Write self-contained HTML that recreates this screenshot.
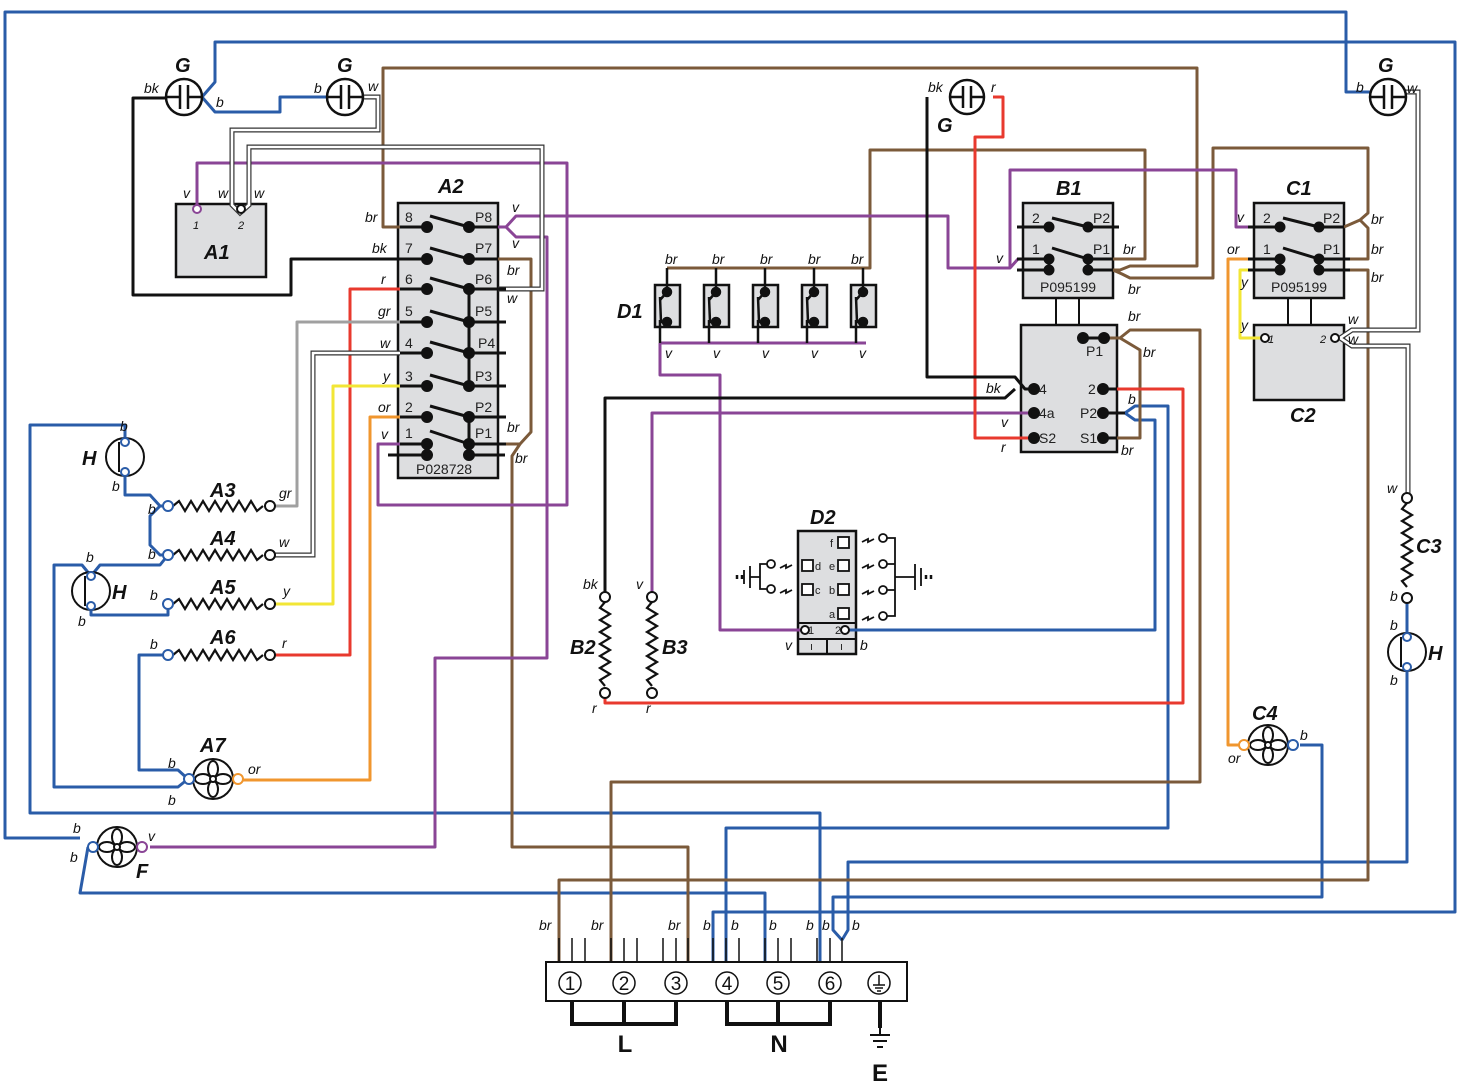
<!DOCTYPE html>
<html><head><meta charset="utf-8"><style>
html,body{margin:0;padding:0;background:#fff}
svg{display:block}
.t{font-family:"Liberation Sans",sans-serif;font-style:italic;font-size:14px;fill:#111}
.n{font-family:"Liberation Sans",sans-serif;font-style:italic;font-weight:bold;font-size:20px;fill:#111}
.p{font-family:"Liberation Sans",sans-serif;font-size:14px;fill:#222}
.w{fill:none;stroke-width:3;stroke-linejoin:round}
.br{stroke:#7b5a3a}.v{stroke:#8a4596}.b{stroke:#2a5ca8}.r{stroke:#e8392e}.o{stroke:#f0962e}.y{stroke:#f2e635}.g{stroke:#a0a0a0}.k{stroke:#111}
.wo{fill:none;stroke:#333;stroke-width:5}.wi{fill:none;stroke:#fff;stroke-width:2.6}
.box{fill:#dddee0;stroke:#111;stroke-width:2.5}
.th{stroke:#111;stroke-width:2;fill:none}
</style></head><body>
<svg width="1459" height="1087" viewBox="0 0 1459 1087" xmlns="http://www.w3.org/2000/svg">
<!-- boxes -->
<rect class="box" x="176" y="204" width="90" height="73"/>
<rect class="box" x="398" y="203" width="100" height="275"/>
<rect class="box" x="1023" y="203" width="90" height="95"/>
<rect class="box" x="1021" y="325" width="96" height="127"/>
<rect class="box" x="1254" y="203" width="90" height="95"/>
<rect class="box" x="1254" y="325" width="90" height="75"/>
<rect class="box" x="798" y="531" width="58" height="123"/>
<line class="th" x1="798" y1="623" x2="856" y2="623"/><line class="th" x1="798" y1="639" x2="856" y2="639"/><line class="th" x1="827" y1="639" x2="827" y2="654"/>
<line class="th" x1="1056" y1="298" x2="1056" y2="325"/><line class="th" x1="1079" y1="298" x2="1079" y2="325"/>
<line class="th" x1="1288" y1="298" x2="1288" y2="325"/><line class="th" x1="1311" y1="298" x2="1311" y2="325"/>

<!-- BLUE wires -->
<polyline class="w b" points="80,838 5,838 5,12 1346,12 1346,92 1370,92"/>
<polyline class="w b" points="202,97 215,82 215,42 1455,42 1455,912 713,912 713,962"/>
<polyline class="w b" points="202,97 215,112 280,112 280,97 327,97"/>
<polyline class="w b" points="125,440 125,425 30,425 30,813 820,813 820,962"/>
<polyline class="w b" points="125,472 125,495 150,495 160,506 168,506"/>
<polyline class="w b" points="168,506 160,506 150,516 150,545 160,555 168,555"/>
<polyline class="w b" points="168,555 160,565 100,565 91,576 82,565 54,565 54,787 178,787 188,779"/>
<polyline class="w b" points="91,606 91,615 168,615 168,604"/>
<polyline class="w b" points="168,655 139,655 139,770 178,770 188,779"/>
<polyline class="w b" points="88,847 80,893 765,893 765,962"/>
<polyline class="w b" points="845,630 1155,630 1155,420 1135,420 1125,413"/>
<polyline class="w b" points="1125,413 1135,406 1168,406 1168,828 726,828 726,962"/>
<polyline class="w b" points="1300,745 1322,745 1322,897 833,897 833,930 842,940"/>
<polyline class="w b" points="1407,667 1407,862 848,862 848,930 842,940"/>
<polyline class="w b" points="1407,598 1407,637"/>

<!-- BROWN -->
<polyline class="w br" points="400,227 383,227 383,68 1197,68 1197,266 1130,266 1120,270 1113,270"/>
<polyline class="w br" points="1113,270 1122,274 1130,278 1213,278 1213,148 1368,148 1368,213 1360,220 1344,227"/>
<polyline class="w br" points="1360,220 1368,228 1368,259 1344,259"/>
<polyline class="w br" points="1113,259 1145,259 1145,150 870,150 870,268 667,268"/>
<polyline class="w br" points="1344,270 1368,270 1368,880 559,880 559,962"/>
<polyline class="w br" points="498,259 531,259 531,432 520,444 506,444"/>
<polyline class="w br" points="520,444 512,456 512,847 688,847 688,962"/>
<polyline class="w br" points="1104,338 1120,338 1130,330 1200,330 1200,782 611,782 611,962"/>
<polyline class="w br" points="1120,338 1140,350 1140,438 1117,438"/>
<!-- PURPLE -->
<polyline class="w v" points="197,205 197,163 567,163 567,505 378,505 378,444 400,444"/>
<polyline class="w v" points="498,227 506,227 516,216 948,216 948,268 1010,268 1018,259 1023,259"/>
<polyline class="w v" points="506,227 516,237 547,237 547,658 435,658 435,847 150,847"/>
<polyline class="w v" points="1010,268 1010,252 1010,170 1236,170 1236,227 1254,227"/>
<polyline class="w v" points="660,343 866,343"/>
<polyline class="w v" points="660,343 660,375 720,375 720,630 805,630"/>
<polyline class="w v" points="1034,413 652,413 652,597"/>
<!-- RED -->
<polyline class="w r" points="993,97 1003,97 1003,137 975,137 975,438 1034,438"/>
<polyline class="w r" points="400,289 350,289 350,655 270,655"/>
<polyline class="w r" points="1103,389 1183,389 1183,703 652,703"/>
<polyline class="w r" points="605,693 605,703 652,703"/>
<!-- ORANGE -->
<polyline class="w o" points="400,417 370,417 370,780 238,780"/>
<polyline class="w o" points="1254,259 1228,259 1228,745 1245,745"/>
<!-- YELLOW -->
<polyline class="w y" points="400,386 333,386 333,604 270,604"/>
<polyline class="w y" points="1254,270 1240,270 1240,338 1265,338"/>
<!-- GRAY -->
<polyline class="w g" points="400,322 297,322 297,506 270,506"/>
<!-- BLACK -->
<polyline class="w k" points="166,98 133,98 133,295 291,295 291,259 427,259"/>
<polyline class="w k" points="927,97 927,377 1015,377 1025,389 1034,389"/>
<polyline class="w k" points="1015,389 1005,398 605,398 605,597"/>
<!-- WHITE -->
<g>
<polyline class="wo" points="363,97 378,97 378,130 232,130 232,205 240,213 249,205 249,147 542,147 542,289 498,289"/>
<polyline class="wi" points="363,97 378,97 378,130 232,130 232,205 240,213 249,205 249,147 542,147 542,289 498,289"/>
<polyline class="wo" points="400,353 313,353 313,555 270,555"/>
<polyline class="wi" points="400,353 313,353 313,555 270,555"/>
<polyline class="wo" points="1405,92 1418,92 1418,330 1352,330 1340,338 1352,346 1408,346 1408,497"/>
<polyline class="wi" points="1405,92 1418,92 1418,330 1352,330 1340,338 1352,346 1408,346 1408,497"/>
</g>

<!-- A2 internals -->
<g stroke="#111" stroke-width="3" fill="#111">
<line x1="400" y1="227" x2="427" y2="227"/><line x1="469" y1="227" x2="498" y2="227"/>
<line x1="469" y1="259" x2="498" y2="259"/><line x1="469" y1="289" x2="506" y2="289"/>
<line x1="469" y1="322" x2="506" y2="322"/><line x1="469" y1="353" x2="506" y2="353"/>
<line x1="469" y1="386" x2="506" y2="386"/><line x1="469" y1="417" x2="506" y2="417"/>
<line x1="469" y1="444" x2="506" y2="444"/><line x1="388" y1="455" x2="427" y2="455"/><line x1="469" y1="455" x2="505" y2="455"/>
<line x1="400" y1="259" x2="427" y2="259"/><line x1="400" y1="289" x2="427" y2="289"/><line x1="400" y1="322" x2="427" y2="322"/><line x1="400" y1="353" x2="427" y2="353"/><line x1="400" y1="386" x2="427" y2="386"/><line x1="400" y1="417" x2="427" y2="417"/><line x1="400" y1="444" x2="427" y2="444"/>
<line x1="469" y1="289" x2="469" y2="386"/><line x1="469" y1="417" x2="469" y2="444"/>
<line x1="430" y1="216" x2="469" y2="227"/><line x1="430" y1="248" x2="469" y2="259"/><line x1="430" y1="278" x2="469" y2="289"/><line x1="430" y1="311" x2="469" y2="322"/><line x1="430" y1="342" x2="469" y2="353"/><line x1="430" y1="375" x2="469" y2="386"/><line x1="430" y1="406" x2="469" y2="417"/><line x1="430" y1="431" x2="469" y2="444"/>
<circle cx="427" cy="227" r="4.5"/><circle cx="427" cy="259" r="4.5"/><circle cx="427" cy="289" r="4.5"/><circle cx="427" cy="322" r="4.5"/><circle cx="427" cy="353" r="4.5"/><circle cx="427" cy="386" r="4.5"/><circle cx="427" cy="417" r="4.5"/><circle cx="427" cy="444" r="4.5"/><circle cx="427" cy="455" r="4.5"/>
<circle cx="469" cy="227" r="4.5"/><circle cx="469" cy="259" r="4.5"/><circle cx="469" cy="289" r="4.5"/><circle cx="469" cy="322" r="4.5"/><circle cx="469" cy="353" r="4.5"/><circle cx="469" cy="386" r="4.5"/><circle cx="469" cy="417" r="4.5"/><circle cx="469" cy="444" r="4.5"/><circle cx="469" cy="455" r="4.5"/>
<!-- B1 -->
<line x1="1017" y1="227" x2="1049" y2="227"/><line x1="1088" y1="227" x2="1119" y2="227"/>
<line x1="1017" y1="259" x2="1049" y2="259"/><line x1="1088" y1="259" x2="1113" y2="259"/>
<line x1="1017" y1="270" x2="1049" y2="270"/><line x1="1088" y1="270" x2="1113" y2="270"/>
<line x1="1049" y1="259" x2="1049" y2="270"/><line x1="1088" y1="259" x2="1088" y2="270"/>
<line x1="1052" y1="218" x2="1088" y2="227"/><line x1="1052" y1="248" x2="1088" y2="259"/>
<circle cx="1049" cy="227" r="4"/><circle cx="1088" cy="227" r="4"/><circle cx="1049" cy="259" r="4"/><circle cx="1088" cy="259" r="4"/><circle cx="1049" cy="270" r="4"/><circle cx="1088" cy="270" r="4"/>
<!-- C1 -->
<line x1="1248" y1="227" x2="1280" y2="227"/><line x1="1319" y1="227" x2="1344" y2="227"/>
<line x1="1248" y1="259" x2="1280" y2="259"/><line x1="1319" y1="259" x2="1350" y2="259"/>
<line x1="1248" y1="270" x2="1280" y2="270"/><line x1="1319" y1="270" x2="1350" y2="270"/>
<line x1="1280" y1="259" x2="1280" y2="270"/><line x1="1319" y1="259" x2="1319" y2="270"/>
<line x1="1283" y1="218" x2="1319" y2="227"/><line x1="1283" y1="248" x2="1319" y2="259"/>
<circle cx="1280" cy="227" r="4"/><circle cx="1319" cy="227" r="4"/><circle cx="1280" cy="259" r="4"/><circle cx="1319" cy="259" r="4"/><circle cx="1280" cy="270" r="4"/><circle cx="1319" cy="270" r="4"/>
<!-- B lower -->
<line x1="1083" y1="338" x2="1104" y2="338"/>
<circle cx="1083" cy="338" r="4.5"/><circle cx="1104" cy="338" r="4.5"/>
<circle cx="1034" cy="389" r="4.5"/><circle cx="1034" cy="413" r="4.5"/><circle cx="1034" cy="438" r="4.5"/>
<circle cx="1103" cy="389" r="4.5"/><circle cx="1103" cy="413" r="4.5"/><circle cx="1103" cy="438" r="4.5"/>
<line x1="1103" y1="413" x2="1125" y2="413"/><line x1="1103" y1="438" x2="1117" y2="438"/><line x1="1103" y1="389" x2="1117" y2="389"/>
</g>

<!-- D1 switches -->
<g stroke="#111" stroke-width="2.5" fill="#111">
<g id="sw"><rect x="655" y="285" width="25" height="42" fill="#dddee0"/><line x1="667" y1="268" x2="667" y2="290"/><circle cx="667" cy="292" r="4"/><line x1="660" y1="297" x2="661" y2="322"/><line x1="661" y1="322" x2="667" y2="322"/><circle cx="667" cy="322" r="4"/><line x1="660" y1="320" x2="660" y2="343"/><line x1="667" y1="292" x2="660" y2="300"/></g>
<use href="#sw" x="49"/><use href="#sw" x="98"/><use href="#sw" x="147"/><use href="#sw" x="196"/>
</g>

<!-- G symbols -->
<g stroke="#111" stroke-width="2.5" fill="#fff">
<circle cx="184" cy="97" r="18"/><circle cx="345" cy="97" r="18"/><circle cx="967" cy="97" r="17"/><circle cx="1388" cy="97" r="18"/>
</g>
<g stroke="#111" stroke-width="2.5">
<path d="M166 97H180M188 97H202M180 85V109M188 85V109"/>
<path d="M327 97H341M349 97H363M341 85V109M349 85V109"/>
<path d="M950 97H963M971 97H984M963 86V108M971 86V108"/>
<path d="M1370 97H1384M1392 97H1406M1384 85V109M1392 85V109"/>
</g>
<!-- H symbols -->
<g stroke="#111" stroke-width="2" fill="#fff">
<circle cx="125" cy="457" r="19"/><line x1="119" y1="442" x2="119" y2="472"/><circle cx="125" cy="442" r="4" stroke="#2a5ca8"/><circle cx="125" cy="472" r="4" stroke="#2a5ca8"/>
<circle cx="91" cy="591" r="19"/><line x1="85" y1="576" x2="85" y2="606"/><circle cx="91" cy="576" r="4" stroke="#2a5ca8"/><circle cx="91" cy="606" r="4" stroke="#2a5ca8"/>
<circle cx="1407" cy="652" r="19"/><line x1="1401" y1="637" x2="1401" y2="667"/><circle cx="1407" cy="637" r="4" stroke="#2a5ca8"/><circle cx="1407" cy="667" r="4" stroke="#2a5ca8"/>
</g>
<!-- Fans -->
<g stroke="#111" stroke-width="2" fill="#fff">
<g id="fan"><circle cx="213" cy="779" r="20"/><ellipse cx="213" cy="769" rx="5" ry="8"/><ellipse cx="213" cy="789" rx="5" ry="8"/><ellipse cx="203" cy="779" rx="8" ry="5"/><ellipse cx="223" cy="779" rx="8" ry="5"/><circle cx="213" cy="779" r="3"/></g>
<circle cx="189" cy="779" r="5" stroke="#2a5ca8"/><circle cx="238" cy="779" r="5" stroke="#f0962e"/>
<use href="#fan" x="-96" y="68"/><circle cx="93" cy="847" r="5" stroke="#2a5ca8"/><circle cx="142" cy="847" r="5" stroke="#8a4596"/>
<use href="#fan" x="1055" y="-34"/><circle cx="1244" cy="745" r="5" stroke="#f0962e"/><circle cx="1293" cy="745" r="5" stroke="#2a5ca8"/>
</g>
<!-- Resistors -->
<g stroke="#111" stroke-width="2.2" fill="none">
<path d="M173 506l6 -5l6 10l6 -10l6 10l6 -10l6 10l6 -10l6 10l6 -10l6 10l6 -10l6 10l6 -10l6 10l6 -5"/>
<path d="M173 555l6 -5l6 10l6 -10l6 10l6 -10l6 10l6 -10l6 10l6 -10l6 10l6 -10l6 10l6 -10l6 10l6 -5"/>
<path d="M173 604l6 -5l6 10l6 -10l6 10l6 -10l6 10l6 -10l6 10l6 -10l6 10l6 -10l6 10l6 -10l6 10l6 -5"/>
<path d="M173 655l6 -5l6 10l6 -10l6 10l6 -10l6 10l6 -10l6 10l6 -10l6 10l6 -10l6 10l6 -10l6 10l6 -5"/>
<path d="M605 602l-5 6l10 6l-10 6l10 6l-10 6l10 6l-10 6l10 6l-10 6l10 6l-10 6l10 6l-10 6l5 6"/>
<path d="M652 602l-5 6l10 6l-10 6l10 6l-10 6l10 6l-10 6l10 6l-10 6l10 6l-10 6l10 6l-10 6l5 6"/>
<path d="M1407 503l-5 6l10 6l-10 6l10 6l-10 6l10 6l-10 6l10 6l-10 6l10 6l-10 6l10 6l-10 6l5 6"/>
</g>
<g stroke-width="2" fill="#fff">
<circle cx="168" cy="506" r="5" stroke="#2a5ca8"/><circle cx="270" cy="506" r="5" stroke="#111"/>
<circle cx="168" cy="555" r="5" stroke="#2a5ca8"/><circle cx="270" cy="555" r="5" stroke="#111"/>
<circle cx="168" cy="604" r="5" stroke="#2a5ca8"/><circle cx="270" cy="604" r="5" stroke="#111"/>
<circle cx="168" cy="655" r="5" stroke="#2a5ca8"/><circle cx="270" cy="655" r="5" stroke="#111"/>
<circle cx="605" cy="597" r="5" stroke="#111"/><circle cx="605" cy="693" r="5" stroke="#111"/>
<circle cx="652" cy="597" r="5" stroke="#111"/><circle cx="652" cy="693" r="5" stroke="#111"/>
<circle cx="1407" cy="498" r="5" stroke="#111"/><circle cx="1407" cy="598" r="5" stroke="#111"/>
<circle cx="197" cy="209" r="4" stroke="#8a4596"/><circle cx="241" cy="209" r="4" stroke="#111"/>
<circle cx="1265" cy="338" r="4" stroke="#111"/><circle cx="1335" cy="338" r="4" stroke="#111"/>
<circle cx="805" cy="630" r="4" stroke="#111"/><circle cx="845" cy="630" r="4" stroke="#111"/>
</g>

<!-- D2 internals -->
<g stroke="#111" stroke-width="1.8" fill="#fff">
<rect x="838" y="537" width="11" height="11"/><rect x="838" y="560" width="11" height="11"/><rect x="838" y="584" width="11" height="11"/><rect x="838" y="608" width="11" height="11"/>
<rect x="802" y="560" width="11" height="11"/><rect x="802" y="584" width="11" height="11"/>
<circle cx="883" cy="538" r="4"/><circle cx="883" cy="564" r="4"/><circle cx="883" cy="590" r="4"/><circle cx="883" cy="616" r="4"/>
<circle cx="771" cy="564" r="4"/><circle cx="771" cy="589" r="4"/>
<path fill="none" d="M887 538H895V616H887M887 564H895M887 590H895M895 577H915M915 564V590M921 568V586M767 564H760V589H767M760 577H750M750 566V588M744 570V584"/>
<path fill="none" d="M862 542l6 -3l0 3l6 -3M862 568l6 -3l0 3l6 -3M862 594l6 -3l0 3l6 -3M862 620l6 -3l0 3l6 -3M780 568l6 -3l0 3l6 -3M780 593l6 -3l0 3l6 -3"/>
<path fill="none" stroke-width="2.5" d="M926 575v4M931 575v4M737 575v4M742 575v4"/>
</g>
<g font-family="Liberation Sans,sans-serif" font-size="11" fill="#222">
<text x="830" y="547">f</text><text x="829" y="570">e</text><text x="829" y="594">b</text><text x="829" y="618">a</text>
<text x="815" y="570">d</text><text x="815" y="594">c</text><text x="808" y="634">1</text><text x="835" y="634">2</text>
<text x="810" y="650">ı</text><text x="840" y="650">ı</text>
</g>

<!-- Terminal block -->
<g stroke="#111" stroke-width="1.5" fill="none">
<path d="M559 938V962M572 938V962M585 938V962M611 938V962M624 938V962M637 938V962M663 938V962M676 938V962M688 938V962M713 938V962M726 938V962M739 938V962M765 938V962M778 938V962M791 938V962M817 938V962M830 938V962M842 938V962"/>
<rect x="546" y="962" width="361" height="39" stroke-width="2"/>
<circle cx="570" cy="983" r="11"/><circle cx="624" cy="983" r="11"/><circle cx="676" cy="983" r="11"/><circle cx="727" cy="983" r="11"/><circle cx="778" cy="983" r="11"/><circle cx="830" cy="983" r="11"/><circle cx="879" cy="983" r="11"/>
<path d="M873 985h12M875 988h8M877 991h4M879 975v10"/>
</g>
<g stroke="#111" stroke-width="4" fill="none">
<path d="M572 1001V1024H676V1001M624 1001V1024M727 1001V1024H830V1001M778 1001V1024M880 1001V1028"/>
</g>
<path d="M870 1035h20M873 1041h14M877 1047h6M880 1028v7" stroke="#111" stroke-width="2"/>
<g font-family="Liberation Sans,sans-serif" font-size="19" fill="#111" text-anchor="middle">
<text x="570" y="990">1</text><text x="624" y="990">2</text><text x="676" y="990">3</text><text x="727" y="990">4</text><text x="778" y="990">5</text><text x="830" y="990">6</text>
</g>
<g font-family="Liberation Sans,sans-serif" font-weight="bold" font-size="24" fill="#111" text-anchor="middle">
<text x="625" y="1052">L</text><text x="779" y="1052">N</text><text x="880" y="1081">E</text>
</g>

<!-- Pin labels -->
<g class="p">
<text x="405" y="222">8</text><text x="405" y="253">7</text><text x="405" y="284">6</text><text x="405" y="316">5</text><text x="405" y="348">4</text><text x="405" y="381">3</text><text x="405" y="412">2</text><text x="405" y="438">1</text>
<text x="475" y="222">P8</text><text x="475" y="253">P7</text><text x="475" y="284">P6</text><text x="475" y="316">P5</text><text x="478" y="348">P4</text><text x="475" y="381">P3</text><text x="475" y="412">P2</text><text x="475" y="438">P1</text>
<text x="416" y="474">P028728</text>
<text x="1032" y="223">2</text><text x="1093" y="223">P2</text><text x="1032" y="254">1</text><text x="1093" y="254">P1</text><text x="1040" y="292">P095199</text>
<text x="1263" y="223">2</text><text x="1323" y="223">P2</text><text x="1263" y="254">1</text><text x="1323" y="254">P1</text><text x="1271" y="292">P095199</text>
<text x="1086" y="356">P1</text><text x="1039" y="394">4</text><text x="1039" y="418">4a</text><text x="1039" y="443">S2</text>
<text x="1088" y="394">2</text><text x="1080" y="418">P2</text><text x="1080" y="443">S1</text>
</g>
<!-- Component names -->
<g class="n">
<text x="175" y="72">G</text><text x="337" y="72">G</text><text x="937" y="132">G</text><text x="1378" y="72">G</text>
<text x="204" y="259">A1</text><text x="438" y="193">A2</text><text x="1056" y="195">B1</text><text x="1286" y="195">C1</text><text x="1290" y="422">C2</text>
<text x="210" y="497">A3</text><text x="210" y="545">A4</text><text x="210" y="594">A5</text><text x="210" y="644">A6</text><text x="200" y="752">A7</text>
<text x="82" y="465">H</text><text x="112" y="599">H</text><text x="1428" y="660">H</text>
<text x="136" y="878">F</text><text x="617" y="318">D1</text><text x="810" y="524">D2</text>
<text x="570" y="654">B2</text><text x="662" y="654">B3</text><text x="1416" y="553">C3</text><text x="1252" y="720">C4</text>
</g>
<!-- wire labels -->
<g class="t">
<text x="144" y="93">bk</text><text x="216" y="107">b</text><text x="314" y="93">b</text><text x="368" y="91">w</text>
<text x="928" y="92">bk</text><text x="991" y="92">r</text><text x="1356" y="92">b</text><text x="1407" y="93">w</text>
<text x="183" y="198">v</text><text x="218" y="198">w</text><text x="254" y="198">w</text>
<text x="193" y="229" font-size="11">1</text><text x="238" y="229" font-size="11">2</text>
<text x="365" y="222">br</text><text x="372" y="253">bk</text><text x="381" y="284">r</text><text x="378" y="316">gr</text><text x="380" y="348">w</text><text x="383" y="381">y</text><text x="378" y="412">or</text><text x="381" y="439">v</text>
<text x="512" y="212">v</text><text x="512" y="248">v</text><text x="507" y="275">br</text><text x="507" y="303">w</text><text x="507" y="432">br</text><text x="515" y="463">br</text>
<text x="665" y="264">br</text><text x="712" y="264">br</text><text x="760" y="264">br</text><text x="808" y="264">br</text><text x="851" y="264">br</text>
<text x="665" y="358">v</text><text x="713" y="358">v</text><text x="762" y="358">v</text><text x="811" y="358">v</text><text x="859" y="358">v</text>
<text x="996" y="263">v</text><text x="1123" y="254">br</text><text x="1128" y="294">br</text>
<text x="1237" y="222">v</text><text x="1227" y="254">or</text><text x="1241" y="287">y</text><text x="1241" y="330">y</text><text x="1371" y="224">br</text><text x="1371" y="254">br</text><text x="1371" y="282">br</text>
<text x="1268" y="343" font-size="11">1</text><text x="1320" y="343" font-size="11">2</text><text x="1348" y="324">w</text><text x="1348" y="344">w</text>
<text x="1128" y="321">br</text><text x="1143" y="357">br</text><text x="986" y="393">bk</text><text x="1128" y="404">b</text><text x="1001" y="427">v</text><text x="1001" y="452">r</text><text x="1121" y="455">br</text>
<text x="1387" y="493">w</text><text x="1390" y="601">b</text><text x="1390" y="630">b</text><text x="1390" y="685">b</text>
<text x="1228" y="763">or</text><text x="1300" y="740">b</text>
<text x="583" y="589">bk</text><text x="636" y="589">v</text><text x="592" y="713">r</text><text x="646" y="713">r</text>
<text x="785" y="650">v</text><text x="860" y="650">b</text>
<text x="120" y="431">b</text><text x="112" y="491">b</text><text x="148" y="514">b</text><text x="148" y="559">b</text><text x="279" y="498">gr</text><text x="279" y="547">w</text>
<text x="86" y="562">b</text><text x="78" y="626">b</text><text x="150" y="600">b</text><text x="283" y="596">y</text><text x="150" y="649">b</text><text x="282" y="648">r</text>
<text x="168" y="768">b</text><text x="168" y="805">b</text><text x="248" y="774">or</text>
<text x="73" y="833">b</text><text x="70" y="862">b</text><text x="148" y="841">v</text>
<text x="539" y="930">br</text><text x="591" y="930">br</text><text x="668" y="930">br</text><text x="703" y="930">b</text><text x="731" y="930">b</text><text x="769" y="930">b</text><text x="806" y="930">b</text><text x="822" y="930">b</text><text x="852" y="930">b</text>
</g>
</svg>
</body></html>
